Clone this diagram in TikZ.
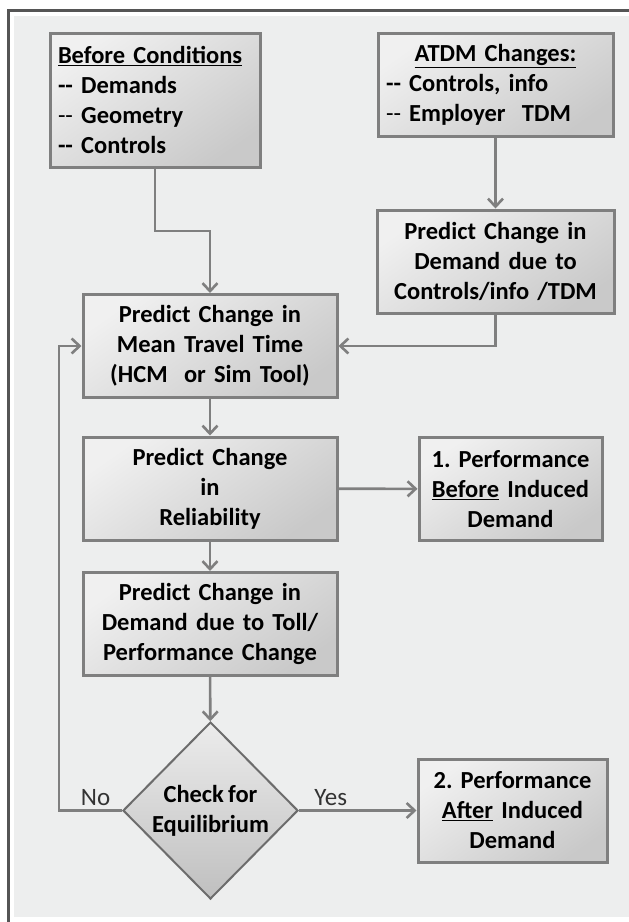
\documentclass[tikz,border=0pt]{standalone}
\usepackage{fontspec}
\setmainfont{Carlito}
\usetikzlibrary{shapes.geometric,arrows.meta}
\definecolor{lineGray}{HTML}{7F7F7F}
\definecolor{frameGray}{HTML}{555555}
\definecolor{paneGray}{HTML}{EDEEEE}
\newcommand{\tightSpace}{\frenchspacing\spaceskip=0.17em plus 0.1em\relax}
\tikzstyle{boxFont}=[font=\bfseries\fontsize{24.5}{30}\selectfont\tightSpace]
\tikzstyle{procBox}=[boxFont, draw=lineGray, line width=3pt, top color=gray!12, bottom color=gray!42,
  shading angle=35, inner xsep=8pt, inner ysep=0pt, minimum height=103pt, align=center]
\tikzstyle{decision}=[diamond, draw=lineGray!85!black, line width=2pt, top color=gray!15, bottom color=gray!50,
  inner sep=0pt, minimum width=175pt, minimum height=177pt]
\tikzstyle{flowArrow}=[draw=lineGray, line width=2.6pt, -{Straight Barb[length=8pt,width=15pt]}]
\tikzstyle{answer}=[font=\fontsize{25}{28}\selectfont, text=black!80, above, inner sep=4pt]
\newcommand{\dd}{-{}-}
\newcommand{\ddThin}{{\mdseries-{}-}}

\begin{document}
\begin{tikzpicture}[x=1pt, y=-1pt]
  \useasboundingbox (0,0) rectangle (629,922);
  \fill[white] (0,0) rectangle (629,922);
  \fill[paneGray] (14,16) rectangle (629,917);
  \draw[frameGray, line width=3pt] (8,922) -- (8,10) -- (629,10);

  \node[procBox, text width=194pt, minimum height=134pt, align=left] (before) at (155,100)
    {\underline{Before Conditions}\\ \dd\ Demands\\ \ddThin\ Geometry\\ \dd\ Controls};
  \node[procBox, text width=219pt, align=left] (atdm) at (495.5,84.5)
    {\makebox[\linewidth]{\underline{ATDM Changes:}}\\ \dd\ Controls, info\\ \ddThin\ Employer\ \ TDM};
  \node[procBox, text width=221pt] (demand) at (495.5,261.5)
    {Predict Change in\\ Demand due to\\ Controls/info /TDM};
  \node[procBox, text width=238pt] (mean) at (210,346)
    {Predict Change in\\ Mean Travel Time\\ (HCM\ \ or Sim Tool)};
  \node[procBox, text width=238pt] (reliab) at (210,488.5)
    {Predict Change\\ in\\ Reliability};
  \node[procBox, text width=167pt] (perfBefore) at (510.5,489)
    {1. Performance\\ \underline{Before} Induced\\ Demand};
  \node[procBox, text width=238pt] (toll) at (210,624)
    {Predict Change in\\ Demand due to Toll/\\ Performance Change};
  \node[decision, label={[boxFont, align=center]center:Check for\\ Equilibrium}] (check) at (210.5,810.5) {};
  \node[procBox, text width=173pt] (perfAfter) at (512.5,810.5)
    {2. Performance\\ \underline{After} Induced\\ Demand};

  \coordinate (bendA) at (155,231);
  \coordinate (loopPt) at (59,810.5);

  \draw[flowArrow] (before.south) -- (bendA) -| (mean.north);
  \draw[flowArrow] (atdm) -- (demand);
  \draw[flowArrow] (demand.south) |- (mean.east);
  \draw[flowArrow] (mean) -- (reliab);
  \draw[flowArrow] (reliab) -- (perfBefore);
  \draw[flowArrow] (reliab) -- (toll);
  \draw[flowArrow] (toll) -- (check);
  \draw[flowArrow] (check) -- (perfAfter) node[answer, pos=0.27] {Yes};
  \draw[flowArrow] (check.west) -- (loopPt) node[answer, pos=0.42] {No} |- (mean.west);
\end{tikzpicture}
\end{document}
